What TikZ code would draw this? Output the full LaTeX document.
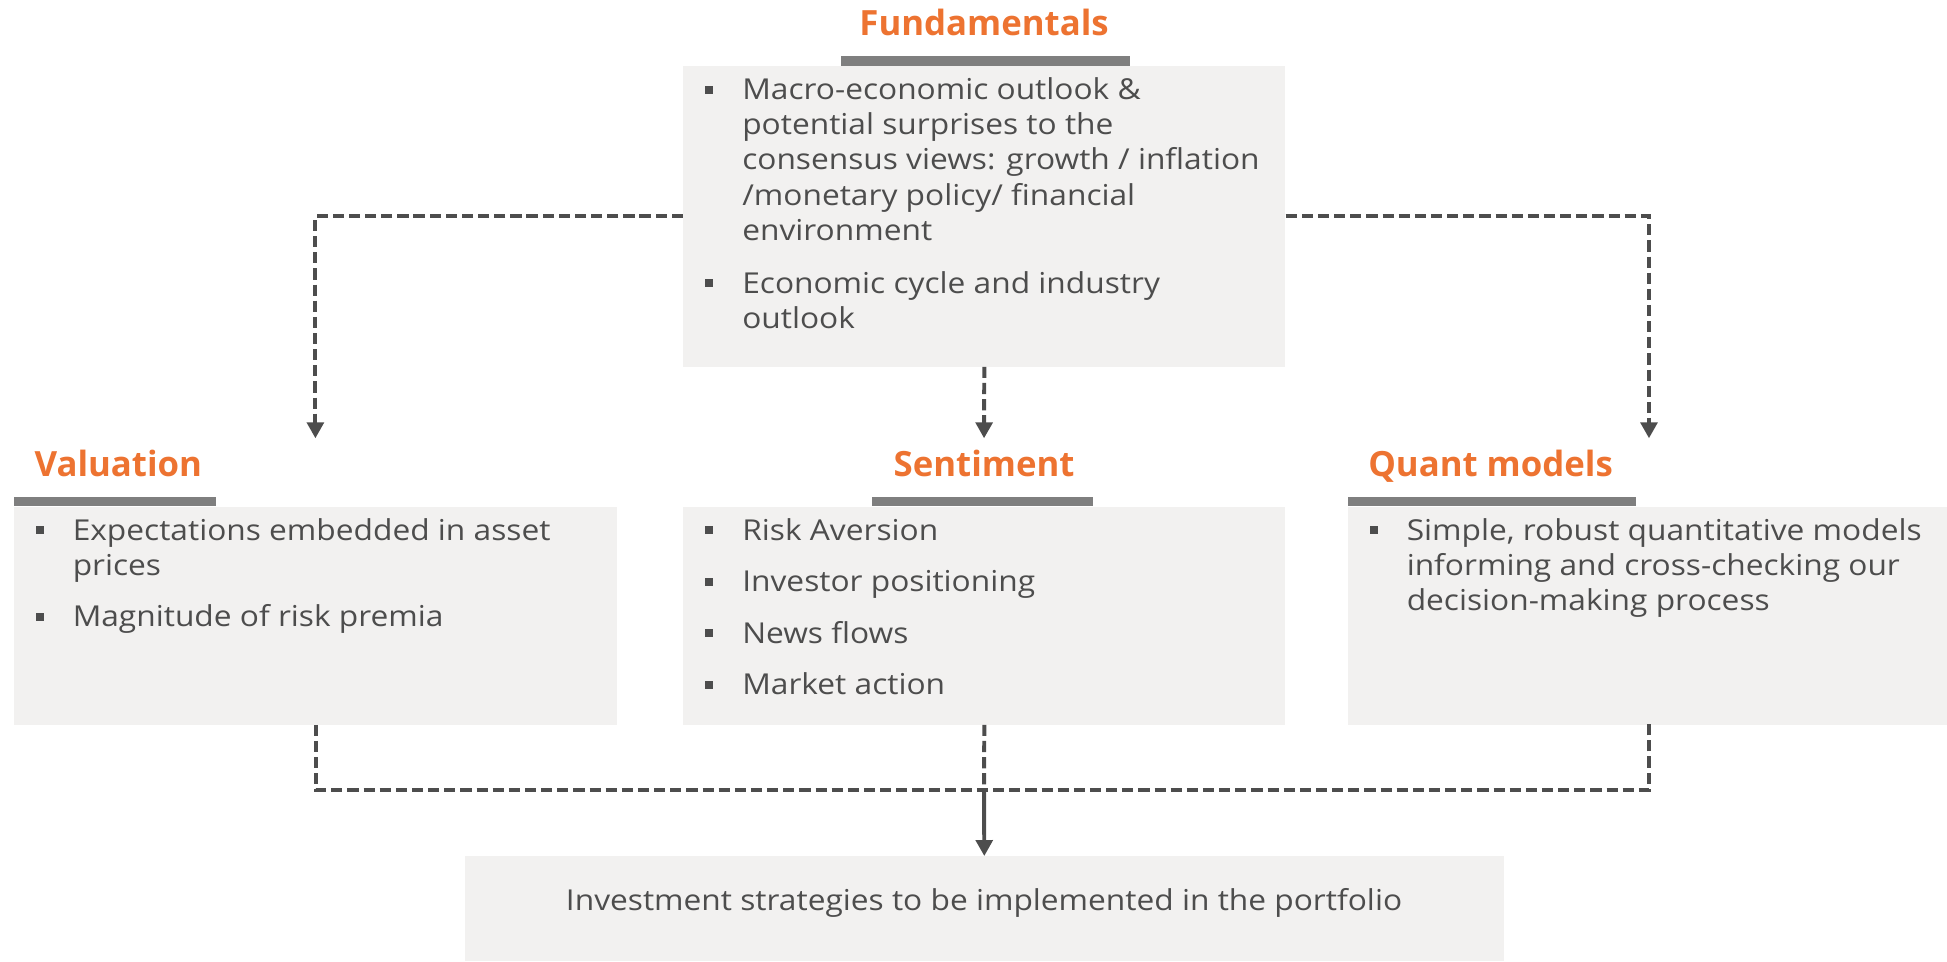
\documentclass[tikz,border=0pt]{standalone}
\usepackage{fontspec}
\setmainfont{Open Sans}[FakeStretch=1.1]
\newfontfamily\ttlfont{Open Sans}
\usetikzlibrary{arrows.meta}
\definecolor{txtc}{HTML}{4D4D4D}
\definecolor{orng}{HTML}{ED7331}
\definecolor{barc}{HTML}{7F7F7F}
\definecolor{boxc}{HTML}{F2F1F0}
\definecolor{linec}{HTML}{4D4D4D}
\newcommand{\bsq}[3]{\node[bul] (#1) at (#2-26.5,#3+8) {};}
\begin{document}
\begin{tikzpicture}[x=1pt,y=1pt,
  box/.style={fill=boxc, draw=none, inner sep=0, anchor=north west},
  bar/.style={fill=barc, draw=none, inner sep=0, anchor=south west, minimum height=7.5pt},
  ttl/.style={text=orng, font=\ttlfont\fontsize{28}{33}\selectfont\bfseries, inner sep=0},
  txt/.style={text=txtc, font=\fontsize{23.2}{28}\selectfont, inner sep=0, anchor=base west},
  bul/.style={fill=txtc, minimum size=6.5pt, inner sep=0},
  dline/.style={draw=linec, line width=3.2pt, dash pattern=on 9pt off 4pt},
  sline/.style={draw=linec, line width=3.2pt},
  tip/.style={-{Triangle[length=12.9pt,width=13.4pt]}},
]
\useasboundingbox (0,0) rectangle (1568,-774);

% boxes
\node[box, minimum width=485pt, minimum height=242pt] (fund) at (550,-53) {};
\node[box, minimum width=485.2pt, minimum height=175.3pt] (val) at (11.3,-408) {};
\node[box, minimum width=485pt, minimum height=175.3pt] (sent) at (550,-408) {};
\node[box, minimum width=483pt, minimum height=175.3pt] (quant) at (1085,-408) {};
\node[box, minimum width=837pt, minimum height=84.6pt] (bottom) at (374,-689.4) {};

% bars
\node[bar, minimum width=233pt] (fundbar) at (677,-53) {};
\node[bar, minimum width=162.7pt] (valbar) at (11.3,-408) {};
\node[bar, minimum width=178pt] (sentbar) at (702,-408) {};
\node[bar, minimum width=232.6pt] (quantbar) at (1085,-408) {};

% titles
\node[ttl, anchor=base] (fundt) at (792.5,-28.2) {Fundamentals};
\node[ttl, anchor=base west] (valt) at (27.7,-384) {Valuation};
\node[ttl, anchor=base] (sentt) at (792.5,-384) {Sentiment};
\node[ttl, anchor=base west] (quantt) at (1101.7,-384) {Quant models};

% Fundamentals text
\bsq{fb1}{597.6}{-80.5}
\node[txt] (f1) at (597.6,-80.5) {Macro-economic outlook \&};
\node[txt] (f2) at (597.6,-108.7) {potential surprises to the};
\node[txt] (f3) at (597.6,-136.9) {consensus views: growth / inflation};
\node[txt] (f4) at (597.6,-165.1) {/monetary policy/ financial};
\node[txt] (f5) at (597.6,-193.3) {environment};
\bsq{fb2}{597.6}{-236.2}
\node[txt] (f6) at (597.6,-236.2) {Economic cycle and industry};
\node[txt] (f7) at (597.6,-264.4) {outlook};

% Valuation text
\bsq{vb1}{58.4}{-434.9}
\node[txt] (v1) at (58.4,-434.9) {Expectations embedded in asset};
\node[txt] (v2) at (58.4,-463.1) {prices};
\bsq{vb2}{58.4}{-504.7}
\node[txt] (v3) at (58.4,-504.7) {Magnitude of risk premia};

% Sentiment text
\bsq{sb1}{597.6}{-434.9}
\node[txt] (s1) at (597.6,-434.9) {Risk Aversion};
\bsq{sb2}{597.6}{-476.5}
\node[txt] (s2) at (597.6,-476.5) {Investor positioning};
\bsq{sb3}{597.6}{-518}
\node[txt] (s3) at (597.6,-518) {News flows};
\bsq{sb4}{597.6}{-559.6}
\node[txt] (s4) at (597.6,-559.6) {Market action};

% Quant text
\bsq{qb1}{1132.7}{-434.9}
\node[txt] (q1) at (1132.7,-434.9) {Simple, robust quantitative models};
\node[txt] (q2) at (1132.7,-463.1) {informing and cross-checking our};
\node[txt] (q3) at (1132.7,-491.3) {decision-making process};

% bottom text
\node[txt, anchor=base] (bt) at (792.5,-733) {Investment strategies to be implemented in the portfolio};

% connector end points
\coordinate (vtip) at (254,-353);
\coordinate (stip) at (792.5,-353);
\coordinate (qtip) at (1328,-353);
\coordinate (join) at (792.5,-636);
\coordinate (qbot) at (1328,-583.3);

% top connectors
\draw[dline, tip] (fund.west) -| (vtip);
\draw[dline, tip] (fund.east) -| (qtip);
\draw[dline, tip] (fund.south) -- (stip);

% bottom connectors
\draw[dline] (val.south) -- (val.south |- join) -- (qbot |- join) -- (qbot);
\draw[dline] (sent.south) -- (join);
\draw[sline, tip] (join) -- (bottom.north);
\end{tikzpicture}
\end{document}
